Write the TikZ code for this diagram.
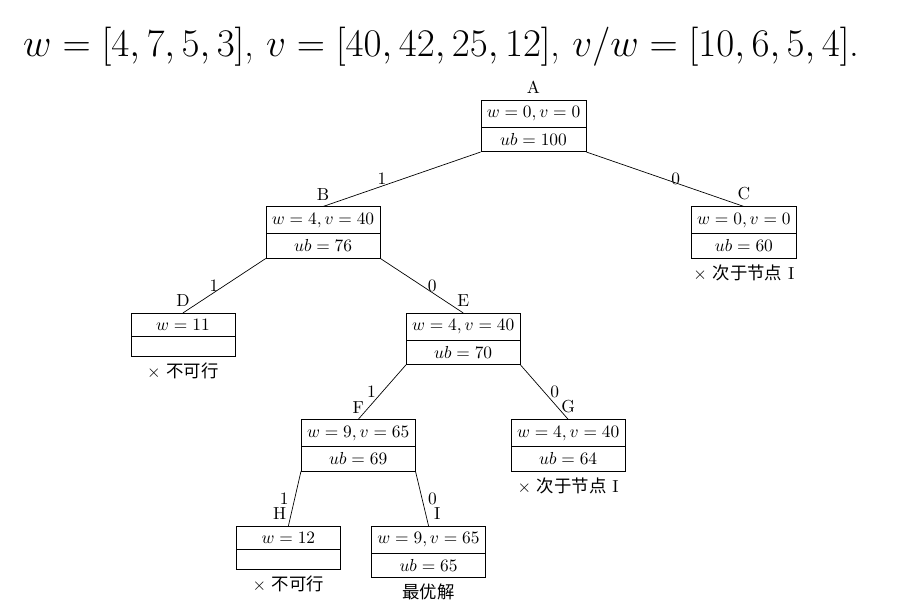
\documentclass[tikz,border=0pt]{standalone}
\usepackage{graphicx}
\usepackage{fontspec}
\newfontfamily\cjk{Noto Sans CJK SC}
\usetikzlibrary{shapes.multipart, positioning}

\begin{document}
\begin{tikzpicture}[node distance=11mm,
    subprob/.style={draw, rectangle split, rectangle split parts=2, minimum width=2.1cm}]
        \useasboundingbox (-306.6pt,57.5pt) rectangle (224.4pt,-291.4pt);
        \node (title) at (-53pt,30.5pt) {\scalebox{1.085}{\huge $w=[4,7,5,3]$, $v=[40,42,25,12]$, $v/w=[10,6,5,4]$.}};

        \node (A) [subprob, anchor=north, label=above:A] at (0,0) {$w=0,v=0$ \nodepart{two} $ub=100$};
        \node (B) [subprob, below=of A, xshift=-4.25cm, label=above:B] {$w=4,v=40$ \nodepart{two} $ub=76$};
        \node (C) [subprob, below=of A, xshift=4.25cm, label=above:C, label=below:{$\times$ {\cjk 次于节点} I}] {$w=0,v=0$ \nodepart{two} $ub=60$};
        \node (D) [subprob, below=of B, xshift=-2.83cm, label=above:D, label=below:{$\times$ {\cjk 不可行}}] {$w=11$ \nodepart{two}};
        \node (E) [subprob, below=of B, xshift=2.83cm, label=above:E] {$w=4,v=40$ \nodepart{two} $ub=70$};
        \node (F) [subprob, below=of E, xshift=-2.12cm, label=above:F] {$w=9,v=65$ \nodepart{two} $ub=69$};
        \node (G) [subprob, below=of E, xshift=2.12cm, label=above:G, label=below:{$\times$ {\cjk 次于节点} I}] {$w=4,v=40$ \nodepart{two} $ub=64$};
        \node (H) [subprob, below=of F, xshift=-1.41cm, label={[xshift=-5pt]above:H}, label=below:{$\times$ {\cjk 不可行}}] {$w=12$ \nodepart{two}};
        \node (I) [subprob, below=of F, xshift=1.42cm, label={[xshift=5pt]above:I}, label=below:{\cjk 最优解}] {$w=9,v=65$ \nodepart{two} $ub=65$};

        \draw (A.south west) -- node[left, pos=0.56, yshift=2pt]{1} (B.north);
        \draw (A.south east) -- node[right]{0} (C.north);
        \draw (B.south west) -- node[left]{1} (D.north);
        \draw (B.south east) -- node[right]{0} (E.north);
        \draw (E.south west) -- node[left]{1} (F.north);
        \draw (E.south east) -- node[right]{0} (G.north);
        \draw (F.south west) -- node[left]{1} (H.north);
        \draw (F.south east) -- node[right]{0} (I.north);
    \end{tikzpicture}
\end{document}
